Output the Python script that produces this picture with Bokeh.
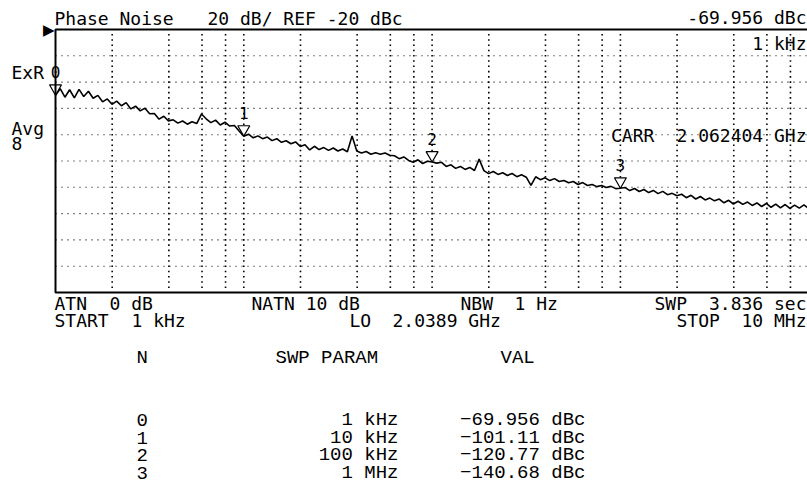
import numpy as np
from bokeh.plotting import figure
from bokeh.models import Range1d, BoxAnnotation, Label, LabelSet, ColumnDataSource
from bokeh.core.properties import value
from bokeh.embed import file_html
from bokeh.resources import INLINE

freq_start_hz = 1e3
freq_stop_hz = 1e7
ref_level_dbc = -20
db_per_div = 20
n_div = 10

# phase-noise trace, one value per log-spaced sweep point (1 kHz .. 10 MHz)
trace_dbc = [
    -69.96, -65.0, -71.5, -65.8, -72.0, -65.5, -71.0, -67.0, -72.3, -70.1,
    -75.0, -72.8, -76.9, -74.5, -78.0, -75.6, -80.4, -78.3, -81.9, -79.8,
    -84.1, -83.9, -88.2, -86.0, -89.5, -88.7, -91.2, -89.6, -92.0, -90.1,
    -91.5, -84.3, -87.9, -90.8, -88.9, -92.6, -90.5, -93.4, -93.0, -97.2,
    -101.11, -99.6, -102.4, -100.9, -103.0, -101.8, -104.5, -103.0, -105.8, -104.6,
    -106.9, -105.5, -108.9, -107.6, -111.6, -108.8, -111.3, -109.8, -111.9, -110.1,
    -112.4, -110.9, -113.0, -101.0, -112.4, -113.9, -112.8, -114.9, -113.7, -114.8,
    -113.9, -115.6, -116.0, -118.2, -116.9, -119.6, -120.9, -119.1, -121.9, -120.2,
    -120.77, -121.6, -121.0, -124.1, -122.9, -125.6, -124.1, -126.4, -124.9, -127.2,
    -118.6, -127.3, -129.6, -128.0, -130.2, -128.9, -131.0, -129.5, -131.9, -130.4,
    -132.3, -138.6, -132.0, -134.2, -132.8, -134.9, -133.4, -135.6, -134.8, -136.5,
    -135.6, -137.9, -136.4, -138.6, -137.8, -139.5, -138.6, -140.1, -139.3, -141.0,
    -140.68, -140.2, -142.5, -140.9, -143.2, -141.7, -144.0, -142.4, -144.8, -143.1,
    -145.6, -144.6, -146.4, -145.3, -147.9, -146.1, -148.9, -147.0, -149.6, -148.2,
    -150.3, -148.9, -151.8, -149.9, -152.7, -150.6, -153.0, -151.2, -153.8, -151.9,
    -154.6, -152.3, -155.2, -152.8, -155.6, -153.1, -156.0, -153.5, -155.8, -153.4,
    -156.1,
]

marker_n = [0, 1, 2, 3]
marker_freq_hz = [1e3, 1e4, 1e5, 1e6]
marker_param = ["1 kHz", "10 kHz", "100 kHz", "1 MHz"]
marker_val_dbc = [-69.956, -101.11, -120.77, -140.68]

# ---------------- layout ----------------
MONO = "DejaVu Sans Mono"
TABLE = "Liberation Mono"
W, H = 807, 499
GRAT_LEFT_PX, GRAT_TOP_PX = 55, 29     # graticule origin on the canvas
DEC_PX = 188.3                          # pixels per frequency decade
DIV_PX = 26.3                           # pixels per vertical division

y_top = ref_level_dbc
y_bot = ref_level_dbc - db_per_div * n_div
DB_PER_PX = db_per_div / DIV_PX


def X(px):
    return 10 ** (np.log10(freq_start_hz) + (px - GRAT_LEFT_PX) / DEC_PX)


def Y(py):
    return y_top - (py - GRAT_TOP_PX) * DB_PER_PX


p = figure(width=W, height=H, x_axis_type="log",
           x_range=Range1d(X(0), X(W)), y_range=Range1d(Y(H), Y(0)),
           x_axis_location=None, y_axis_location=None,
           toolbar_location=None, output_backend="svg", min_border=0)
p.outline_line_color = None
p.background_fill_color = "white"
p.border_fill_color = "white"
p.xgrid.visible = False
p.ygrid.visible = False

# graticule (dotted): log-decade lines at 2,4,6,8,10 and one line per division
decades = range(int(np.log10(freq_start_hz)), int(np.log10(freq_stop_hz)))
x_grid = sorted([float(m * 10 ** e) for e in decades for m in (2, 4, 6, 8)] +
                [float(10 ** (e + 1)) for e in decades])
y_grid = [float(y_top - db_per_div * k) for k in range(1, n_div)]

# vertical graticule lines: dotted, 5 dots per division
DOTS_PER_DIV = 5
dot_levels = [y_top - db_per_div * k / DOTS_PER_DIV
              for k in range(1, n_div * DOTS_PER_DIV)]
p.scatter(x=[f for f in x_grid for _ in dot_levels],
          y=[v for _ in x_grid for v in dot_levels],
          marker="square", size=1.6, fill_color="black", line_color=None)
# horizontal graticule lines
p.multi_line(xs=[[freq_start_hz, freq_stop_hz] for _ in y_grid],
             ys=[[v, v] for v in y_grid],
             line_color="black", line_width=1.1, line_dash="1 5")

p.add_layout(BoxAnnotation(left=freq_start_hz, right=freq_stop_hz,
                           top=y_top, bottom=y_bot, fill_color=None,
                           line_color="black", line_alpha=1, line_width=2))

# trace
trace_freq = np.logspace(np.log10(freq_start_hz), np.log10(freq_stop_hz),
                         len(trace_dbc))
p.line(trace_freq, trace_dbc, line_color="black", line_width=1.6)

# markers: inverted triangles whose tip sits on the trace value
MK_SIZE = 12
tip_db = MK_SIZE / np.sqrt(3) * DB_PER_PX
msrc = ColumnDataSource(dict(f=marker_freq_hz, v=marker_val_dbc,
                             vc=[v + tip_db for v in marker_val_dbc],
                             n=[str(n) for n in marker_n]))
p.scatter(x="f", y="vc", source=msrc, marker="inverted_triangle", size=MK_SIZE,
          fill_color="white", line_color="black", line_width=1.2)
p.add_layout(LabelSet(x="f", y="v", text="n", source=msrc, y_offset=17,
                      text_align="center", text_baseline="alphabetic",
                      text_font=value(MONO), text_font_size="16px",
                      text_color="black"))

BASE_FIX = {MONO: 5.0, TABLE: 5.7}


def txt(s, px, py, align="left", font=MONO, size="18px"):
    p.add_layout(Label(x=X(px), y=Y(py - BASE_FIX[font]), text=s,
                       text_align=align, text_baseline="alphabetic",
                       text_font=font, text_font_size=size,
                       text_color="black"))


# reference level pointer
p.add_layout(Label(x=X(54), y=ref_level_dbc, text="\u25b6", text_align="right",
                   text_baseline="middle", text_font="DejaVu Sans",
                   text_font_size="15px", text_color="black"))

R = 806
txt("Phase Noise", 54, 22.5)
txt("20 dB/ REF -20 dBc", 207, 22.5)
txt(f"{marker_val_dbc[0]:.5g} dBc", R, 22, "right")
txt("1 kHz", R, 48, "right")
txt("ExR", 11, 76.5)
txt("Avg", 11, 133)
txt("8", 11, 148)
txt("CARR", 610.5, 140)
txt("2.062404 GHz", R, 140, "right")
txt("ATN", 54, 308)
txt("0 dB", 109, 308)
txt("NATN 10 dB", 251, 308)
txt("NBW", 460, 308)
txt("1 Hz", 514, 308)
txt("SWP", 654, 308)
txt("3.836 sec", R, 308, "right")
txt("START", 54, 324.5)
txt("1 kHz", 131, 324.5)
txt("LO", 349, 324.5)
txt("2.0389 GHz", 392, 324.5)
txt("STOP", 676, 324.5)
txt("10 MHz", R, 324.5, "right")

# marker table
TS = "19px"
txt("N", 136, 363, font=TABLE, size=TS)
txt("SWP PARAM", 275, 363, font=TABLE, size=TS)
txt("VAL", 500, 363, font=TABLE, size=TS)
for i, (n, prm, v) in enumerate(zip(marker_n, marker_param, marker_val_dbc)):
    yb = 425 + i * 17.8
    txt(str(n), 136, yb, font=TABLE, size=TS)
    txt(prm, 398, yb, "right", font=TABLE, size=TS)
    txt(f"{v:.5g} dBc".replace("-", "\u2212"), 585, yb, "right",
        font=TABLE, size=TS)

open("out.html", "w").write(file_html(p, INLINE))
